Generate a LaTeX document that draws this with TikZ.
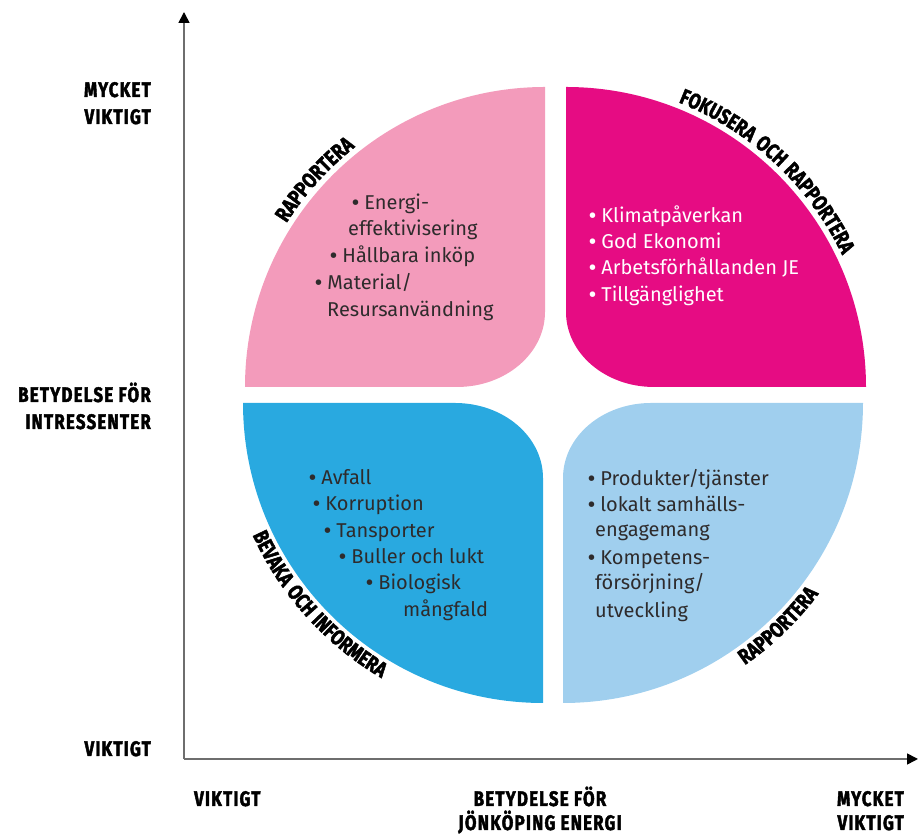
\documentclass[tikz,border=0pt]{standalone}
\usepackage{fontspec}
\setmainfont{Fira Sans}
\newfontfamily\labfont[FakeStretch=0.8,LetterSpace=6,FakeBold=2]{Fira Sans}
\usetikzlibrary{arrows.meta,decorations.text}
\definecolor{rosa}{HTML}{F39BBB}
\definecolor{cerise}{HTML}{E60C83}
\definecolor{cyanq}{HTML}{29A9E0}
\definecolor{ljusbla}{HTML}{A0CFEE}
\definecolor{axisgray}{HTML}{6E6E6E}
\definecolor{textgray}{HTML}{2E2B2C}
\newcommand{\bul}{{\bfseries •}}

\begin{document}
\begin{tikzpicture}[x=1pt,y=1pt,
  axis/.style={draw=axisgray,line width=1.6pt,-{Triangle[length=11pt,width=11pt,color=black]}},
  item/.style={anchor=base west,inner sep=0pt,font=\fontsize{20}{24}\selectfont},
  dark/.style={item,text=textgray},
  light/.style={item,text=white},
  lab/.style={inner sep=0pt,font=\labfont\bfseries\fontsize{21}{24}\selectfont},
  arclab/.style={decorate,decoration={text along path,text align=center,
    text={|\labfont\bfseries\fontsize{21.5}{24}\selectfont|#1}}}]
\useasboundingbox (0,0) rectangle (919,834);
% quadrant corners
\coordinate (tlc) at (545,447);
\coordinate (trc) at (566,447);
\coordinate (blc) at (543,431);
\coordinate (brc) at (563,431);
% the four quadrants
\fill[rosa] (245,447) -- (457,447) arc[start angle=270,end angle=360,x radius=88,y radius=75]
  -- (545,747) arc[start angle=90,end angle=180,radius=300] -- cycle;
\fill[cerise] (566,747) -- (566,522) arc[start angle=180,end angle=270,x radius=88,y radius=75]
  -- (866,447) arc[start angle=0,end angle=90,radius=300] -- cycle;
\fill[cyanq] (243,431) -- (455,431) arc[start angle=90,end angle=0,x radius=88,y radius=75]
  -- (543,131) arc[start angle=270,end angle=180,radius=300] -- cycle;
\fill[ljusbla] (863,431) -- (651,431) arc[start angle=90,end angle=180,x radius=88,y radius=75]
  -- (563,131) arc[start angle=270,end angle=360,radius=300] -- cycle;
% axes
\coordinate (o) at (184,75);
\coordinate (ytip) at (184,822);
\coordinate (xtip) at (918,75);
\draw[axis] (o) -- (ytip);
\draw[axis] (o) -- (xtip);
% axis labels
\node[lab,anchor=base east] (ymv1) at (151,737) {MYCKET};
\node[lab,anchor=base east] (ymv2) at (151,710) {VIKTIGT};
\node[lab,anchor=base east] (ybet1) at (151,432) {BETYDELSE FÖR};
\node[lab,anchor=base east] (ybet2) at (151,405) {INTRESSENTER};
\node[lab,anchor=base east] (yv) at (151,78) {VIKTIGT};
\node[lab,anchor=base west] (xv) at (194,28) {VIKTIGT};
\node[lab,anchor=base] (xbet1) at (540,28) {BETYDELSE FÖR};
\node[lab,anchor=base] (xbet2) at (540,4) {JÖNKÖPING ENERGI};
\node[lab,anchor=base east] (xmv1) at (904,28) {MYCKET};
\node[lab,anchor=base east] (xmv2) at (904,4) {VIKTIGT};
% curved labels
\path[arclab=RAPPORTERA] ([shift={(183:306)}]tlc) arc[start angle=183,end angle=93,radius=306];
\path[arclab=FOKUSERA OCH RAPPORTERA] ([shift={(92:306)}]trc) arc[start angle=92,end angle=2,radius=306];
\path[arclab=BEVAKA OCH INFORMERA] ([shift={(177:319)}]blc) arc[start angle=177,end angle=267,radius=319];
\path[arclab=RAPPORTERA] ([shift={(-91:319)}]brc) arc[start angle=-91,end angle=-1,radius=319];
% top left
\node[dark] (tl1) at (352,624) {\bul{} Energi-};
\node[dark] (tl2) at (348,598) {effektivisering};
\node[dark] (tl3) at (330,571) {\bul{} Hållbara inköp};
\node[dark] (tl4) at (315,544) {\bul{} Material/};
\node[dark] (tl5) at (327,517) {Resursanvändning};
% top right
\node[light] (tr1) at (589,611) {\bul{} Klimatpåverkan};
\node[light] (tr2) at (589,585) {\bul{} God Ekonomi};
\node[light] (tr3) at (589,559) {\bul{} Arbetsförhållanden JE};
\node[light] (tr4) at (589,532) {\bul{} Tillgänglighet};
% bottom left
\node[dark] (bl1) at (309,349) {\bul{} Avfall};
\node[dark] (bl2) at (313,323) {\bul{} Korruption};
\node[dark] (bl3) at (324,296) {\bul{} Tansporter};
\node[dark] (bl4) at (339,270) {\bul{} Buller och lukt};
\node[dark] (bl5) at (366,244) {\bul{} Biologisk};
\node[dark] (bl6) at (403,217) {mångfald};
% bottom right
\node[dark] (br1) at (588,348) {\bul{} Produkter/tjänster};
\node[dark] (br2) at (588,322) {\bul{} lokalt samhälls-};
\node[dark] (br3) at (595,297) {engagemang};
\node[dark] (br4) at (588,269) {\bul{} Kompetens-};
\node[dark] (br5) at (595,244) {försörjning/};
\node[dark] (br6) at (595,216) {utveckling};
\end{tikzpicture}
\end{document}
